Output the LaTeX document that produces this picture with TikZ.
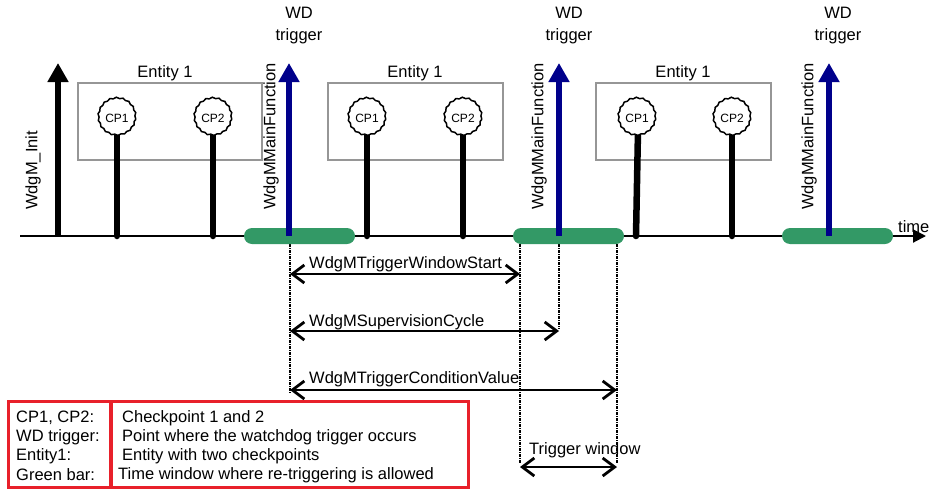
\documentclass[tikz,border=0pt]{standalone}
\usepackage{fontspec}
\setmainfont{Liberation Sans}
\usetikzlibrary{arrows.meta,decorations.pathmorphing,calc}
\definecolor{wdgreen}{RGB}{51,153,102}
\definecolor{wdblue}{RGB}{0,0,139}
\definecolor{legred}{RGB}{232,32,42}
\definecolor{boxgray}{RGB}{150,150,150}
\begin{document}
\begin{tikzpicture}[x=1pt,y=-1pt,
  font=\fontsize{16.5}{19}\selectfont,
  lbl/.style={inner sep=0pt},
  entitybox/.style={draw=boxgray, line width=2pt, minimum height=77pt, inner sep=0pt},
  cpnode/.style={circle, draw, line width=1.5pt, minimum size=37pt, inner sep=0pt, fill=white,
     font=\fontsize{12}{14}\selectfont,
     decorate, decoration={snake, amplitude=0.6pt, segment length=6.5pt}},
  stem/.style={line width=6.5pt, line cap=round},
  initarrow/.style={line width=6.5pt, -{Triangle[length=19pt,width=20pt]}},
  wdarrow/.style={initarrow, draw=wdblue},
  greenbar/.style={fill=wdgreen, rounded corners=8pt, minimum height=16pt, minimum width=111pt, inner sep=0pt},
  dashline/.style={line width=1.5pt, dash pattern=on 3pt off 1pt on 1pt off 1pt},
  dimarrow/.style={line width=2.8pt, {Straight Barb[length=12pt,width=18pt]}-{Straight Barb[length=12pt,width=18pt]}},
  wdlabel/.style={align=center, font=\fontsize{16.5}{22}\selectfont}
]
\useasboundingbox (0,0) rectangle (931,490);

% time axis
\coordinate (a0) at (20,236);
\coordinate (a1) at (926,236);
\draw[line width=2pt, -{Triangle[length=13pt,width=13pt]}] (a0) -- (a1);
\node[lbl, anchor=west] (timelbl) at (898,227) {time};

% dashed guide lines
\coordinate (d1t) at (290,244); \coordinate (d1b) at (290,394);
\coordinate (d2t) at (520,244); \coordinate (d2b) at (520,463);
\coordinate (d3t) at (559,244); \coordinate (d3b) at (559,329);
\coordinate (d4t) at (617,244); \coordinate (d4b) at (617,463);
\draw[dashline] (d1t) -- (d1b);
\draw[dashline] (d2t) -- (d2b);
\draw[dashline] (d3t) -- (d3b);
\draw[dashline] (d4t) -- (d4b);

% green bars
\node[greenbar] (g1) at (299.5,236) {};
\node[greenbar] (g2) at (568.5,236) {};
\node[greenbar] (g3) at (837.5,236) {};

% WdgM_Init
\coordinate (i0) at (58,236); \coordinate (i1) at (58,63);
\draw[initarrow] (i0) -- (i1);
\node[lbl, rotate=90, anchor=west] (initlbl) at (33,210) {WdgM\_Init};

% WD trigger arrows
\coordinate (w1b) at (289,236); \coordinate (w1t) at (289,63);
\coordinate (w2b) at (559,236); \coordinate (w2t) at (559,63);
\coordinate (w3b) at (829,236); \coordinate (w3t) at (829,63);
\draw[wdarrow] (w1b) -- (w1t);
\draw[wdarrow] (w2b) -- (w2t);
\draw[wdarrow] (w3b) -- (w3t);

% entities
\node[entitybox, minimum width=184pt] (e1) at (170,121.5) {};
\node[entitybox, minimum width=175pt] (e2) at (415.5,121.5) {};
\node[entitybox, minimum width=175pt] (e3) at (683.5,121.5) {};
\node (e1l) at (165,73) {Entity 1};
\node (e2l) at (415,73) {Entity 1};
\node (e3l) at (683,73) {Entity 1};

\node[lbl, rotate=90, anchor=west] (mf1) at (271,210) {WdgMMainFunction};
\node[lbl, rotate=90, anchor=west] (mf2) at (539,210) {WdgMMainFunction};
\node[lbl, rotate=90, anchor=west] (mf3) at (809,210) {WdgMMainFunction};
\node[wdlabel] (t1) at (299,26) {WD\\trigger};
\node[wdlabel] (t2) at (569,26) {WD\\trigger};
\node[wdlabel] (t3) at (838,26) {WD\\trigger};

% checkpoints
\coordinate (s11) at (117,236); \coordinate (s12) at (213,236);
\coordinate (s21) at (367,236); \coordinate (s22) at (463,236);
\coordinate (s31) at (636,236); \coordinate (s32) at (732,236);
\draw[stem] (117,130) -- (s11);
\draw[stem] (213,130) -- (s12);
\draw[stem] (367,130) -- (s21);
\draw[stem] (463,130) -- (s22);
\draw[stem] (638,130) -- (s31);
\draw[stem] (732,130) -- (s32);
\node[cpnode] (c11) at (117,118) {CP1};
\node[cpnode] (c12) at (213,118) {CP2};
\node[cpnode] (c21) at (367,118) {CP1};
\node[cpnode] (c22) at (463,118) {CP2};
\node[cpnode] (c31) at (637,118) {CP1};
\node[cpnode] (c32) at (732,118) {CP2};

% dimension arrows
\coordinate (r1a) at (290,274); \coordinate (r1b) at (520,274);
\coordinate (r2a) at (290,331); \coordinate (r2b) at (559,331);
\coordinate (r3a) at (290,390); \coordinate (r3b) at (617,390);
\coordinate (r4a) at (520,467); \coordinate (r4b) at (617,467);
\draw[dimarrow] (r1a) -- (r1b);
\draw[dimarrow] (r2a) -- (r2b);
\draw[dimarrow] (r3a) -- (r3b);
\draw[dimarrow] (r4a) -- (r4b);
\node[lbl, anchor=west] (l1) at (309,264) {WdgMTriggerWindowStart};
\node[lbl, anchor=west] (l2) at (309,322) {WdgMSupervisionCycle};
\node[lbl, anchor=west] (l3) at (309,379) {WdgMTriggerConditionValue};
\node[lbl, anchor=west] (l4) at (529,450) {Trigger window};

% legend
\draw[legred, line width=3pt] (8,401) rectangle (468,487);
\draw[legred, line width=4pt] (111,401) -- (111,487);
\node[lbl, anchor=west] (k1) at (16,418) {CP1, CP2:};
\node[lbl, anchor=west] (k2) at (16,437) {WD trigger:};
\node[lbl, anchor=west] (k3) at (16,456) {Entity1:};
\node[lbl, anchor=west] (k4) at (16,475) {Green bar:};
\node[lbl, anchor=west] (v1) at (122,418) {Checkpoint 1 and 2};
\node[lbl, anchor=west] (v2) at (122,437) {Point where the watchdog trigger occurs};
\node[lbl, anchor=west] (v3) at (122,456) {Entity with two checkpoints};
\node[lbl, anchor=west] (v4) at (118,475) {Time window where re-triggering is allowed};
\end{tikzpicture}
\end{document}
